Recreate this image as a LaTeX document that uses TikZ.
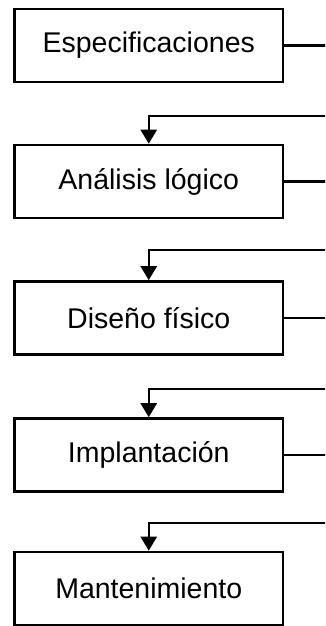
\documentclass[tikz,border=0pt]{standalone}
\usepackage{fontspec}
\setmainfont{Liberation Sans}
\usetikzlibrary{arrows.meta}
\begin{document}
\begin{tikzpicture}[x=1pt,y=-1pt,
  stage/.style={draw=black,line width=2.6pt,minimum width=268.5pt,minimum height=73pt,inner sep=0pt,font=\fontsize{28.5}{34}\selectfont},
  conn/.style={line width=2.5pt},
  arr/.style={line width=2.5pt,-{Triangle[width=16pt,length=14pt]}}]
\useasboundingbox (0,0) rectangle (325,626);
\clip (0,0) rectangle (325,626);
\node[stage] (s1) at (148.75,45.5) {Especificaciones};
\node[stage] (s2) at (148.75,181.5) {Análisis lógico};
\node[stage] (s3) at (148.75,318) {Diseño físico};
\node[stage] (s4) at (148.75,455) {Implantación};
\node[stage] (s5) at (148.75,588.5) {Mantenimiento};
\coordinate (o1) at (335,45.5);
\coordinate (o2) at (335,181.5);
\coordinate (o3) at (335,318);
\coordinate (o4) at (335,455);
\coordinate (i2) at (335,116);
\coordinate (i3) at (335,250);
\coordinate (i4) at (335,389);
\coordinate (i5) at (335,523);
\draw[conn] (s1.east) -- (o1);
\draw[conn] (s2.east) -- (o2);
\draw[conn] (s3.east) -- (o3);
\draw[conn] (s4.east) -- (o4);
\draw[arr] (i2) -| (s2.north);
\draw[arr] (i3) -| (s3.north);
\draw[arr] (i4) -| (s4.north);
\draw[arr] (i5) -| (s5.north);
\end{tikzpicture}
\end{document}
